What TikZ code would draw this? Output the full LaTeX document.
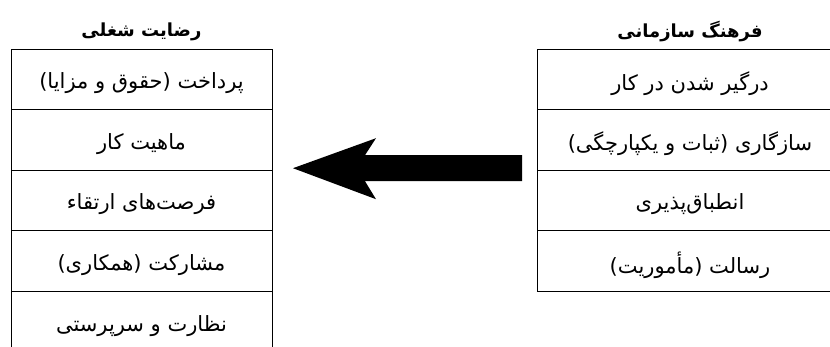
\documentclass[tikz,border=0pt]{standalone}
\usepackage{fontspec}
\newfontfamily\arabicfont[Script=Arabic]{DejaVu Sans}
\TeXXeTstate=1
\usetikzlibrary{positioning}
\newcommand{\fa}[1]{\beginR #1\endR}
\newcommand{\facell}[1]{\raisebox{-4pt}[\height][\depth]{\fa{#1}}}

\begin{document}
\begin{tikzpicture}
[x=1pt,y=-1pt,
every node/.style={font=\arabicfont\fontsize{21}{24}\selectfont,inner sep=0pt,outer sep=0pt},
cell/.style={draw,line width=0.8pt,minimum height=60.6pt},
satcell/.style={cell,minimum width=261pt},
culcell/.style={cell,minimum width=306pt},
heading/.style={font=\arabicfont\bfseries\fontsize{18}{21}\selectfont},
]
\useasboundingbox (0,0) rectangle (830,347);
\clip (0,0) rectangle (830,347);

% left column
\node[heading] (sattitle) at (141.5,32) {\fa{رضایت شغلی}};
\node[satcell] (sat1) at (141.5,79.3) {\facell{پرداخت (حقوق و مزایا)}};
\node[satcell,below=0pt of sat1] (sat2) {\facell{ماهیت کار}};
\node[satcell,below=0pt of sat2] (sat3) {\facell{فرصت‌های ارتقاء}};
\node[satcell,below=0pt of sat3] (sat4) {\facell{مشارکت (همکاری)}};
\node[satcell,below=0pt of sat4] (sat5) {\facell{نظارت و سرپرستی}};

% right column
\node[heading] (cultitle) at (690,32) {\fa{فرهنگ سازمانی}};
\node[culcell] (cul1) at (690,79.3) {\facell{درگیر شدن در کار}};
\node[culcell,below=0pt of cul1] (cul2) {\facell{سازگاری (ثبات و یکپارچگی)}};
\node[culcell,below=0pt of cul2] (cul3) {\facell{انطباق‌پذیری}};
\node[culcell,below=0pt of cul3] (cul4) {\facell{رسالت (مأموریت)}};

% big arrow
\coordinate (tail) at ([xshift=-15pt,yshift=2pt]cul2.south west);
\coordinate (tip) at ([xshift=21pt,yshift=2pt]sat2.south east);
\fill (tip) -- ++(83,-30) -- ++(-11,17) -- ([yshift=13pt]tail)
  -- ([yshift=-13pt]tail) -- ([shift={(72,13)}]tip) -- ++(11,18) -- cycle;
\end{tikzpicture}
\end{document}
